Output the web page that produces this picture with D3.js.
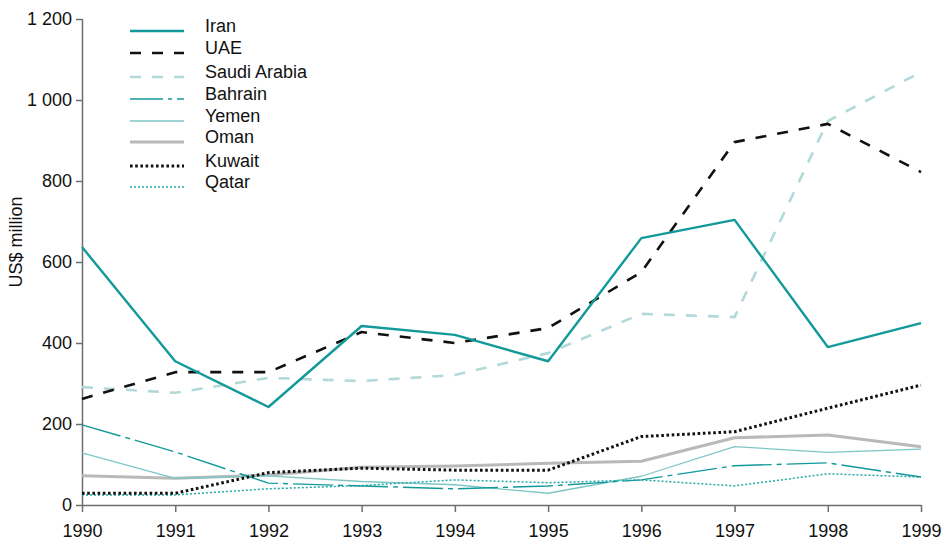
<!DOCTYPE html>
<html><head><meta charset="utf-8">
<script src="https://cdn.jsdelivr.net/npm/d3@7"></script>
<style>body{margin:0;background:#fff}svg{display:block;font-family:"Liberation Sans",Arial,sans-serif}</style>
</head><body><svg id="c" width="945" height="542"></svg>
<script>
const years = [1990,1991,1992,1993,1994,1995,1996,1997,1998,1999];
const yTicks = [0,200,400,600,800,1000,1200];
const iran   = [637,355,242,442,420,355,659,704,390,449];
const uae    = [262,328,328,427,400,437,575,896,941,822];
const saudi  = [291,277,314,306,321,375,472,464,948,1069];
const bahrain= [198,131,54,47,40,47,62,97,104,69];
const yemen  = [129,66,72,58,50,29,71,144,130,138];
const oman   = [72,66,74,93,96,103,108,166,173,144];
const kuwait = [29,29,80,91,86,86,169,181,239,296];
const qatar  = [25,25,40,48,62,55,62,47,77,69];

const series = [
  {name:"Iran", v:iran, color:"#12999a", w:2.4, dash:null},
  {name:"UAE", v:uae, color:"#111", w:2.6, dash:"11,11"},
  {name:"Saudi Arabia", v:saudi, color:"#b2d9d9", w:2.6, dash:"11,11"},
  {name:"Bahrain", v:bahrain, color:"#12999a", w:1.4, dash:"40,5,5,5"},
  {name:"Yemen", v:yemen, color:"#7ec6c6", w:1.3, dash:null},
  {name:"Oman", v:oman, color:"#b9b9b9", w:3, dash:null},
  {name:"Kuwait", v:kuwait, color:"#111", w:3, dash:"2.6,2.6"},
  {name:"Qatar", v:qatar, color:"#20a8a8", w:1.5, dash:"2,2"}
];

const svg = d3.select("#c");
const x = d3.scaleLinear().domain([1990,1999]).range([82,921]);
const y = d3.scaleLinear().domain([0,1200]).range([505,19]);
const fmt = d => d3.format(",")(d).replace(/,/g," ");

const ya = svg.append("g").attr("transform","translate(82,0)")
  .call(d3.axisLeft(y).tickValues(yTicks).tickSize(6).tickPadding(4).tickFormat(fmt));
const xa = svg.append("g").attr("transform","translate(0,505)")
  .call(d3.axisBottom(x).tickValues(years).tickSize(7).tickPadding(12).tickFormat(d3.format("d")));
[ya,xa].forEach(a=>{
  a.selectAll("path").attr("stroke","#6e6e6e").attr("stroke-width",1.5);
  a.selectAll("line").attr("stroke","#6e6e6e").attr("stroke-width",1.5);
  a.selectAll("text").attr("font-size",18).attr("fill","#111").attr("font-family","Liberation Sans, Arial, sans-serif");
});
xa.select(".domain").attr("d","M82,0.5H921");
ya.select(".domain").attr("d","M0.5,19V505");

svg.append("text").attr("transform","translate(22,242) rotate(-90)")
  .attr("text-anchor","middle").attr("font-size",18).attr("fill","#111").text("US$ million");

const line = d3.line().x((d,i)=>x(years[i])).y(d=>y(d));
const order = ["Saudi Arabia","Oman","Yemen","Qatar","Bahrain","Kuwait","UAE","Iran"];
order.forEach(n=>{
  const s = series.find(t=>t.name===n);
  svg.append("path").attr("d",line(s.v)).attr("fill","none")
    .attr("stroke",s.color).attr("stroke-width",s.w)
    .attr("stroke-dasharray",s.dash).attr("stroke-linejoin","round");
});

const legBase = [32,54,78,100,122,143,167,188];
series.forEach((s,i)=>{
  const g = svg.append("g");
  g.append("line").attr("x1",130).attr("x2",184).attr("y1",legBase[i]-1).attr("y2",legBase[i]-1)
    .attr("stroke",s.color).attr("stroke-width",s.w)
    .attr("stroke-dasharray", s.name==="Bahrain" ? "33,5,4,5" : s.dash);
  g.append("text").attr("x",205).attr("y",legBase[i]).attr("font-size",18).attr("fill","#111").text(s.name);
});
</script></body></html>
